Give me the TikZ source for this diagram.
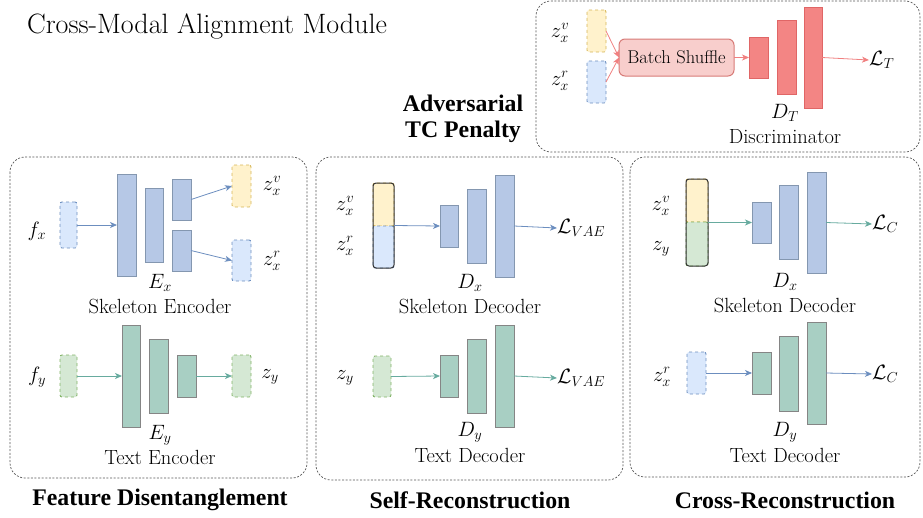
\documentclass[tikz,border=0pt]{standalone}
\usepackage{fontspec}
\newfontfamily\boldserif{Liberation Serif}[BoldFont={Liberation Serif Bold}]
\usetikzlibrary{arrows.meta}

% palette
\definecolor{barblue}{HTML}{B6C8E6}
\definecolor{barblueline}{HTML}{8497B0}
\definecolor{bargreen}{HTML}{A8CFC3}
\definecolor{bargreenline}{HTML}{858585}
\definecolor{barred}{HTML}{F38584}
\definecolor{barredline}{HTML}{E06666}
\definecolor{shufflefill}{HTML}{F8CECC}
\definecolor{shuffleline}{HTML}{D77B77}
\definecolor{latyellow}{HTML}{FFF2CC}
\definecolor{latyellowline}{HTML}{D6B656}
\definecolor{latblue}{HTML}{DAE8FC}
\definecolor{latblueline}{HTML}{6C8EBF}
\definecolor{latgreen}{HTML}{D5E8D4}
\definecolor{latgreenline}{HTML}{82B366}
\definecolor{arrblue}{HTML}{6C8EBF}
\definecolor{arrgreen}{HTML}{67AB9F}
\definecolor{arrred}{HTML}{F08080}
\definecolor{panelline}{HTML}{555555}

\tikzset{
  box/.style={rectangle, inner sep=0pt, outer sep=0pt, line width=0.9pt},
  bluebar/.style={box, fill=barblue, draw=barblueline},
  greenbar/.style={box, fill=bargreen, draw=bargreenline},
  redbar/.style={box, fill=barred, draw=barredline},
  yellowlat/.style={box, fill=latyellow, draw=latyellowline, dashed, rounded corners=2pt},
  bluelat/.style={box, fill=latblue, draw=latblueline, dashed, rounded corners=2pt},
  greenlat/.style={box, fill=latgreen, draw=latgreenline, dashed, rounded corners=2pt},
  stackframe/.style={box, draw=black!80, line width=1pt, rounded corners=3pt},
  shuffle/.style={box, fill=shufflefill, draw=shuffleline, rounded corners=6pt, line width=1pt},
  conn/.style={line width=0.8pt, -{Stealth[length=7pt,width=6pt,inset=2pt]}},
  blueconn/.style={conn, arrblue},
  greenconn/.style={conn, arrgreen},
  redconn/.style={conn, arrred},
  panel/.style={draw=panelline, line width=0.7pt, dash pattern=on 2pt off 1.6pt, rounded corners=15pt},
  caption/.style={inner sep=0pt, font=\fontsize{20.5}{22}\selectfont},
  mathlbl/.style={inner sep=0pt, font=\fontsize{21.5}{24}\selectfont},
  headline/.style={inner sep=0pt, align=center, font=\boldserif\bfseries\fontsize{23.8}{26.5}\selectfont},
}

% \blk{name}{x1}{y1}{x2}{y2}{style}: rectangle node between two corners (pixel units)
\newcommand\blk[6]{%
  \node[#6, minimum width={(#4-#2)*1pt}, minimum height={(#5-#3)*1pt}]
    (#1) at ({(#2+#4)/2},{(#3+#5)/2}) {};}

\begin{document}
\begin{tikzpicture}[x=1pt,y=-1pt]
\useasboundingbox (0,0) rectangle (923,517);

% ---------------- title ----------------
\node[inner sep=0pt, font=\fontsize{28}{30}\selectfont] (title) at (207,26) {Cross-Modal Alignment Module};

% ---------------- discriminator panel ----------------
\draw[panel] (536,1) rectangle (920,152);
\blk{dzv}{587}{10}{606}{52}{yellowlat}
\blk{dzr}{587}{61}{606}{103}{bluelat}
\node[mathlbl] (dzvl) at (560,33) {$z_x^v$};
\node[mathlbl] (dzrl) at (560,81) {$z_x^r$};
\blk{bs}{619}{39}{734}{76}{shuffle}
\node[font=\fontsize{18.5}{20}\selectfont, inner sep=0pt] (bst) at (bs.center) {Batch Shuffle};
\blk{dt1}{749}{37}{768}{78}{redbar}
\blk{dt2}{777}{20}{796}{94}{redbar}
\blk{dt3}{804}{7}{822}{108}{redbar}
\node[mathlbl, anchor=west] (lt) at (869,60) {$\mathcal{L}_T$};
\node[mathlbl] (dtl) at (785,113) {$D_T$};
\node[caption] (dtc) at (785,137) {Discriminator};
\draw[redconn] (dzv.east) -- (bs.west);
\draw[redconn] (dzr.east) -- (bs.west);
\draw[redconn] (bs.east) -- (dt1.west);
\draw[redconn] (dt3.east) -- (lt.west);

\node[headline] (adv) at (463,119) {Adversarial\\TC Penalty};

% ---------------- feature disentanglement ----------------
\draw[panel] (10,157) rectangle (307,478);
% skeleton encoder
\blk{fx}{60}{202}{77}{248}{bluelat}
\node[mathlbl] (fxl) at (37,231) {$f_x$};
\blk{ex1}{117}{174}{136}{276}{bluebar}
\blk{ex2}{145}{188}{163}{262}{bluebar}
\blk{ex3a}{172}{179}{191}{220}{bluebar}
\blk{ex3b}{172}{230}{191}{271}{bluebar}
\blk{ezv}{232}{165}{251}{207}{yellowlat}
\blk{ezr}{232}{240}{251}{281}{bluelat}
\node[mathlbl] (ezvl) at (272,186) {$z_x^v$};
\node[mathlbl] (ezrl) at (272,261) {$z_x^r$};
\node[mathlbl] (exl) at (160,283) {$E_x$};
\node[caption] (exc) at (160,306) {Skeleton Encoder};
\draw[blueconn] (fx.east) -- (ex1.west |- fx.east);
\draw[blueconn] (ex3a.east) -- (ezv.west);
\draw[blueconn] (ex3b.east) -- (ezr.west);
% text encoder
\blk{fy}{60}{355}{77}{397}{greenlat}
\node[mathlbl] (fyl) at (37,377) {$f_y$};
\blk{ey1}{122}{325}{140}{427}{greenbar}
\blk{ey2}{149}{339}{168}{413}{greenbar}
\blk{ey3}{177}{355}{196}{397}{greenbar}
\blk{ezy}{232}{355}{251}{397}{greenlat}
\node[mathlbl] (ezyl) at (270,377) {$z_y$};
\node[mathlbl] (eyl) at (160,435) {$E_y$};
\node[caption] (eyc) at (160,457) {Text Encoder};
\draw[greenconn] (fy.east) -- (ey1.west |- fy.east);
\draw[greenconn] (ey3.east) -- (ezy.west);
\node[headline] (fd) at (160,500) {Feature Disentanglement};

% ---------------- self-reconstruction ----------------
\draw[panel] (316,157) rectangle (623,480);
% skeleton decoder
\blk{sv}{373}{183}{394}{226}{yellowlat}
\blk{sr}{373}{226}{394}{268}{bluelat}
\blk{sst}{373}{183}{394}{268}{stackframe}
\node[mathlbl] (svl) at (345,206) {$z_x^v$};
\node[mathlbl] (srl) at (345,246) {$z_x^r$};
\blk{dx1}{440}{205}{458}{247}{bluebar}
\blk{dx2}{467}{189}{486}{263}{bluebar}
\blk{dx3}{495}{175}{514}{277}{bluebar}
\node[mathlbl, anchor=west] (lv1) at (557,228) {$\mathcal{L}_{VAE}$};
\node[mathlbl] (dxl) at (470,283) {$D_x$};
\node[caption] (dxc) at (470,306) {Skeleton Decoder};
\draw[blueconn] (sst.east) -- (dx1.west);
\draw[blueconn] (dx3.east) -- (lv1.west);
% text decoder
\blk{sy}{373}{356}{391}{397}{greenlat}
\node[mathlbl] (syl) at (345,378) {$z_y$};
\blk{dy1}{440}{355}{458}{397}{greenbar}
\blk{dy2}{467}{339}{486}{413}{greenbar}
\blk{dy3}{495}{325}{514}{427}{greenbar}
\node[mathlbl, anchor=west] (lv2) at (557,378) {$\mathcal{L}_{VAE}$};
\node[mathlbl] (dyl) at (470,432) {$D_y$};
\node[caption] (dyc) at (470,455) {Text Decoder};
\draw[greenconn] (sy.east) -- (dy1.west);
\draw[greenconn] (dy3.east) -- (lv2.west);
\node[headline] (sr) at (470,500) {Self-Reconstruction};

% ---------------- cross-reconstruction ----------------
\draw[panel] (630,157) rectangle (920,477);
% skeleton decoder
\blk{cv}{686}{179}{708}{222}{yellowlat}
\blk{cy}{686}{222}{708}{266}{greenlat}
\blk{cst}{686}{179}{708}{266}{stackframe}
\node[mathlbl] (cvl) at (661,206) {$z_x^v$};
\node[mathlbl] (cyl) at (661,249) {$z_y$};
\blk{cx1}{752}{202}{771}{243}{bluebar}
\blk{cx2}{779}{185}{798}{259}{bluebar}
\blk{cx3}{807}{172}{826}{273}{bluebar}
\node[mathlbl, anchor=west] (lc1) at (872,224) {$\mathcal{L}_C$};
\node[mathlbl] (cxl) at (785,282) {$D_x$};
\node[caption] (cxc) at (785,305) {Skeleton Decoder};
\draw[greenconn] (cst.east) -- (cx1.west);
\draw[greenconn] (cx3.east) -- (lc1.west);
% text decoder
\blk{cr}{687}{352}{706}{394}{bluelat}
\node[mathlbl] (crl) at (662,377) {$z_x^r$};
\blk{cy1}{752}{352}{771}{394}{greenbar}
\blk{cy2}{779}{336}{798}{411}{greenbar}
\blk{cy3}{807}{322}{826}{424}{greenbar}
\node[mathlbl, anchor=west] (lc2) at (872,374) {$\mathcal{L}_C$};
\node[mathlbl] (cyl2) at (785,432) {$D_y$};
\node[caption] (cyc) at (785,455) {Text Decoder};
\draw[blueconn] (cr.east) -- (cy1.west);
\draw[blueconn] (cy3.east) -- (lc2.west);
\node[headline] (cr2) at (785,500) {Cross-Reconstruction};

\end{tikzpicture}
\end{document}
